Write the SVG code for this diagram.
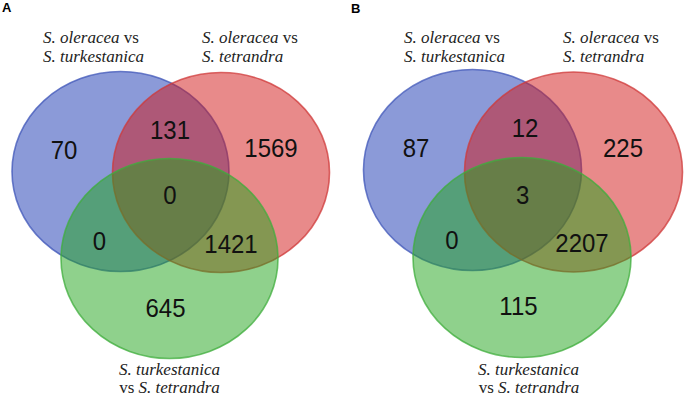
<svg xmlns="http://www.w3.org/2000/svg" width="685" height="401" viewBox="0 0 685 401">
<style>
  .bg{fill:#ffffff}
  .blue{fill:#1735b1;fill-opacity:0.5;stroke:#3f56b8;stroke-opacity:0.75;stroke-width:1.6}
  .red{fill:#d11515;fill-opacity:0.5;stroke:#cf3a3a;stroke-opacity:0.75;stroke-width:1.6}
  .green{fill:#1fa319;fill-opacity:0.5;stroke:#3fae3c;stroke-opacity:0.75;stroke-width:1.6}
  .num{font-family:"Liberation Sans",Arial,sans-serif;font-size:24px;fill:#111111;text-anchor:middle}
  .lab{font-family:"Liberation Serif","Times New Roman",serif;font-size:17px;fill:#222222}
  .it{font-style:italic}
  .mid{text-anchor:middle}
  .pl{font-family:"Liberation Sans",Arial,sans-serif;font-size:13px;font-weight:bold;fill:#000000}
</style>
<rect class="bg" x="0" y="0" width="685" height="401"/>

<g id="panelA">
  <text class="pl" x="2" y="12">A</text>
  <g id="A-blue">
    <ellipse class="blue" cx="120.5" cy="171.5" rx="108.5" ry="100"/>
  </g>
  <g id="A-red">
    <ellipse class="red" cx="221" cy="172.5" rx="108.5" ry="100"/>
  </g>
  <g id="A-green">
    <ellipse class="green" cx="169.5" cy="258.5" rx="108.5" ry="100"/>
  </g>
  <g id="A-labels">
    <text class="lab" x="43" y="43"><tspan class="it">S. oleracea</tspan> vs</text>
    <text class="lab it" x="43" y="62">S. turkestanica</text>
    <text class="lab" x="202" y="43"><tspan class="it">S. oleracea</tspan> vs</text>
    <text class="lab it" x="202" y="62">S. tetrandra</text>
    <text class="lab it mid" x="169.5" y="375">S. turkestanica</text>
    <text class="lab mid" x="169.5" y="393">vs <tspan class="it">S. tetrandra</tspan></text>
  </g>
  <g id="A-counts">
    <text class="num" transform="translate(64,159) scale(1,1.1)">70</text>
    <text class="num" transform="translate(170,139) scale(1,1.1)">131</text>
    <text class="num" transform="translate(271,157) scale(1,1.1)">1569</text>
    <text class="num" transform="translate(170,204) scale(1,1.1)">0</text>
    <text class="num" transform="translate(99.5,250) scale(1,1.1)">0</text>
    <text class="num" transform="translate(231,253) scale(1,1.1)">1421</text>
    <text class="num" transform="translate(165.5,317) scale(1,1.1)">645</text>
  </g>
</g>

<g id="panelB">
  <text class="pl" x="351" y="13">B</text>
  <g id="B-blue">
    <ellipse class="blue" cx="472.5" cy="170" rx="109" ry="100.5"/>
  </g>
  <g id="B-red">
    <ellipse class="red" cx="573.5" cy="172" rx="109" ry="100"/>
  </g>
  <g id="B-green">
    <ellipse class="green" cx="522" cy="257.5" rx="109" ry="100"/>
  </g>
  <g id="B-labels">
    <text class="lab" x="404" y="43"><tspan class="it">S. oleracea</tspan> vs</text>
    <text class="lab it" x="404" y="62">S. turkestanica</text>
    <text class="lab" x="563" y="43"><tspan class="it">S. oleracea</tspan> vs</text>
    <text class="lab it" x="563" y="62">S. tetrandra</text>
    <text class="lab it mid" x="528.5" y="375">S. turkestanica</text>
    <text class="lab mid" x="529" y="393">vs <tspan class="it">S. tetrandra</tspan></text>
  </g>
  <g id="B-counts">
    <text class="num" transform="translate(416,157) scale(1,1.1)">87</text>
    <text class="num" transform="translate(525,137) scale(1,1.1)">12</text>
    <text class="num" transform="translate(623,157) scale(1,1.1)">225</text>
    <text class="num" transform="translate(522.7,204) scale(1,1.1)">3</text>
    <text class="num" transform="translate(452,249) scale(1,1.1)">0</text>
    <text class="num" transform="translate(582,252) scale(1,1.1)">2207</text>
    <text class="num" transform="translate(518.5,315) scale(1,1.1)">115</text>
  </g>
</g>
<g id="connectors"/>
</svg>
